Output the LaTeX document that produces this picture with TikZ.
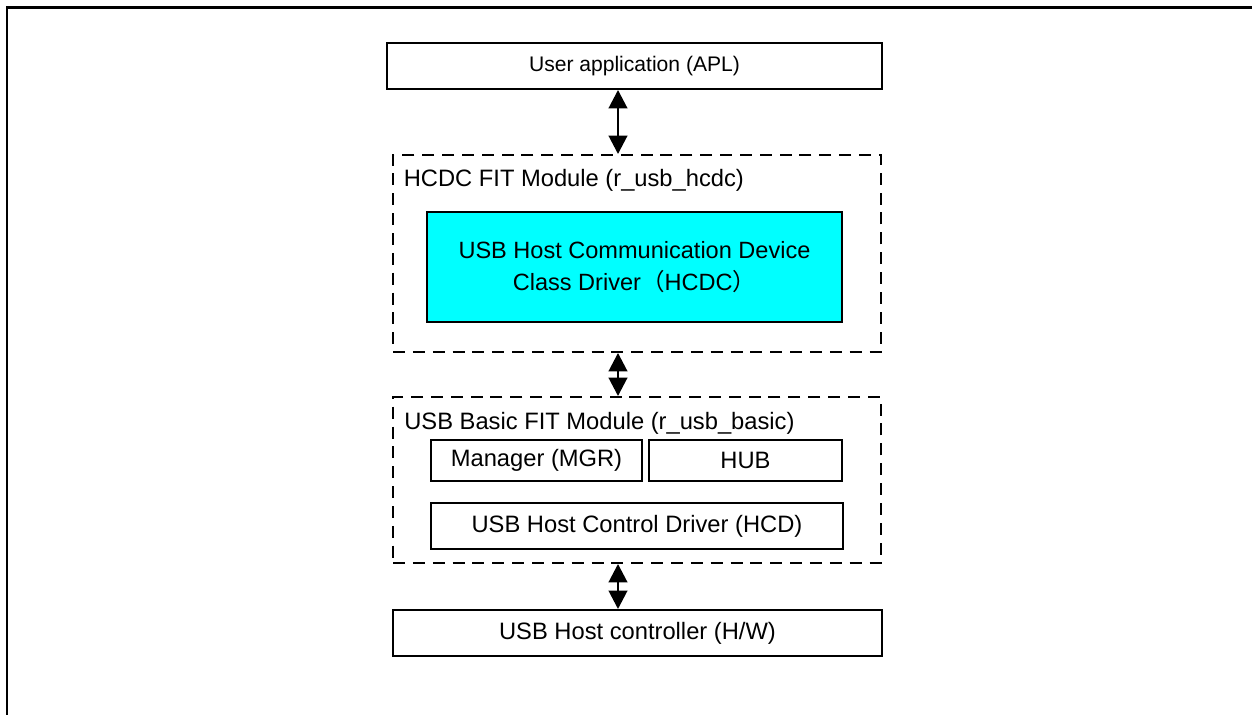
\documentclass[tikz,border=0pt]{standalone}
\usepackage{fontspec}
\setmainfont{Liberation Sans}
\newfontfamily\cjkfont{Noto Sans CJK SC}
\usetikzlibrary{arrows.meta}
\definecolor{hcdccyan}{RGB}{0,255,255}

\begin{document}
\begin{tikzpicture}[
  x=0.02cm, y=-0.02cm,
  block/.style={rectangle, draw, line width=1.1pt, inner sep=0pt, font=\fontsize{13.5}{16}\selectfont},
  module/.style={rectangle, draw, dash pattern=on 6.8pt off 4.5pt, line width=1.1pt},
  modtitle/.style={anchor=base west, inner sep=0pt, font=\fontsize{13.5}{16}\selectfont},
  link/.style={{Triangle[length=10.5pt,width=10.5pt]}-{Triangle[length=10.5pt,width=10.5pt]}, line width=1.6pt}
]
\useasboundingbox (0,0) rectangle (1252,715);
\draw[line width=1.7pt] (7,715) -- (7,8) -- (1252,8);

\node[block, minimum width=9.9cm, minimum height=0.92cm, font=\fontsize{12}{14}\selectfont] (apl) at (634.5,66) {User application (APL)};

% HCDC module
\node[module, minimum width=9.76cm, minimum height=3.94cm] (hcdcmod) at (637,253.5) {};
\node[modtitle] (hcdctitle) at (403.5,187) {HCDC FIT Module (r\_usb\_hcdc)};
\node[block, fill=hcdccyan, minimum width=8.3cm, minimum height=2.2cm, align=center, font=\fontsize{13.4}{18}\selectfont] (hcdc) at (634.5,267) {USB Host Communication Device\\Class Driver{\cjkfont （}HCDC{\cjkfont ）}};

% basic module
\node[module, minimum width=9.76cm, minimum height=3.32cm] (basicmod) at (637,480) {};
\node[modtitle] (basictitle) at (404,430) {USB Basic FIT Module (r\_usb\_basic)};
\node[block, minimum width=4.22cm, minimum height=0.82cm] (mgr) at (536.5,460.5) {Manager (MGR)};
\node[block, minimum width=3.86cm, minimum height=0.82cm] (hub) at (745.5,460.5) {HUB};
\node[block, minimum width=8.24cm, minimum height=0.92cm] (hcd) at (637,526) {USB Host Control Driver (HCD)};

\node[block, minimum width=9.78cm, minimum height=0.92cm] (hw) at (637.5,633) {USB Host controller (H/W)};

\coordinate (axis) at (618,0);
\draw[link] (apl.south -| axis) -- (hcdcmod.north -| axis);
\draw[link] (hcdcmod.south -| axis) -- (basicmod.north -| axis);
\draw[link] (basicmod.south -| axis) -- (hw.north -| axis);
\end{tikzpicture}
\end{document}
